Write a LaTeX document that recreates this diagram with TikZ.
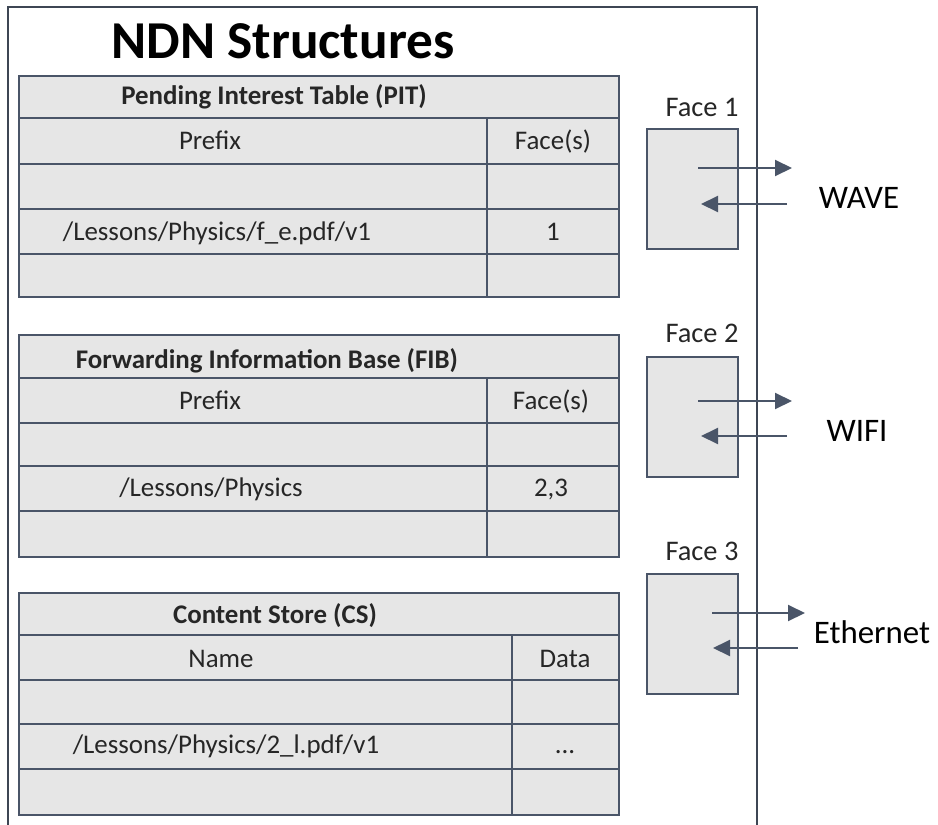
\documentclass[tikz,border=0pt]{standalone}
\usepackage{fontspec}
\setmainfont{Carlito}
\usetikzlibrary{arrows.meta}
\definecolor{linec}{HTML}{4A5568}
\definecolor{framec}{HTML}{3E4654}
\definecolor{cellfill}{HTML}{E6E6E6}
\definecolor{txt}{HTML}{262626}
\newcommand\titlefnt{\fontsize{53.5}{60}\selectfont\bfseries}
\newcommand\hdrfnt{\fontsize{27}{30}\selectfont\bfseries}
\newcommand\cellfnt{\fontsize{27}{30}\selectfont}
\newcommand\facefnt{\fontsize{28.5}{32}\selectfont}
\newcommand\linkfnt{\fontsize{33}{38}\selectfont}
\begin{document}
\begin{tikzpicture}[x=1bp,y=-1bp,
  gridline/.style={draw=linec, line width=2.2bp},
  tablebox/.style={gridline, fill=cellfill},
  hdr/.style={font=\hdrfnt, text=txt, anchor=base, inner sep=0pt},
  cell/.style={font=\cellfnt, text=txt, anchor=base, inner sep=0pt},
  facelabel/.style={font=\facefnt, text=txt, anchor=base, inner sep=0pt},
  linklabel/.style={font=\linkfnt, text=black, anchor=base, inner sep=0pt},
  facebox/.style={draw=linec, line width=2bp, fill=cellfill, inner sep=0pt,
    minimum width=91bp, minimum height=120bp, anchor=north west},
  flow/.style={draw=linec, line width=2bp, -{Triangle[length=17bp,width=16bp]}}]
\useasboundingbox (0,0) rectangle (938,825);

% outer frame, open at the bottom
\draw[framec, line width=2bp] (8,830) -- (8,7) -- (757,7) -- (757,830);

% title
\node[font=\titlefnt, text=black, anchor=base, inner sep=0pt] (title) at (283,58) {NDN Structures};

% ---- Pending Interest Table ----
\draw[tablebox] (19,76) rectangle (619,297);
\draw[gridline] (19,118) -- (619,118) (19,164) -- (619,164)
  (19,209) -- (619,209) (19,254) -- (619,254) (487,118) -- (487,297);
\node[hdr] (pith) at (274,104) {Pending Interest Table (PIT)};
\node[cell] (pitp) at (210,149) {Prefix};
\node[cell] (pitf) at (553,149) {Face(s)};
\node[cell] (pitn) at (217,240) {/Lessons/Physics/f\_e.pdf/v1};
\node[cell] (pitv) at (553,240) {1};

% ---- Forwarding Information Base ----
\draw[tablebox] (19,335) rectangle (619,557);
\draw[gridline] (19,378) -- (619,378) (19,423) -- (619,423)
  (19,466) -- (619,466) (19,511) -- (619,511) (487,378) -- (487,557);
\node[hdr] (fibh) at (267,368) {Forwarding Information Base (FIB)};
\node[cell] (fibp) at (210,409) {Prefix};
\node[cell] (fibf) at (551,409) {Face(s)};
\node[cell] (fibn) at (211,496) {/Lessons/Physics};
\node[cell] (fibv) at (551,496) {2,3};

% ---- Content Store ----
\draw[tablebox] (19,593) rectangle (619,815);
\draw[gridline] (19,635) -- (619,635) (19,680) -- (619,680)
  (19,724) -- (619,724) (19,769) -- (619,769) (512,635) -- (512,815);
\node[hdr] (csh) at (275,623) {Content Store (CS)};
\node[cell] (csn) at (221,667) {Name};
\node[cell] (csd) at (565,667) {Data};
\node[cell] (csk) at (226,753) {/Lessons/Physics/2\_l.pdf/v1};
\node[cell] (csv) at (565,753) {...};

% ---- faces ----
\node[facelabel] (f1l) at (702,116) {Face 1};
\node[facebox] (f1) at (646,128) {};
\node[facelabel] (f2l) at (702,342) {Face 2};
\node[facebox] (f2) at (646,356) {};
\node[facelabel] (f3l) at (702,560) {Face 3};
\node[facebox] (f3) at (646,573) {};

\node[linklabel] (wave) at (859,208) {WAVE};
\node[linklabel] (wifi) at (857,441) {WIFI};
\node[linklabel] (eth) at (872,643) {Ethernet};

% outgoing / incoming traffic on each face
\coordinate (f1o1) at (698,168); \coordinate (f1o2) at (792,168);
\coordinate (f1i1) at (787,204); \coordinate (f1i2) at (701,204);
\coordinate (f2o1) at (698,401); \coordinate (f2o2) at (792,401);
\coordinate (f2i1) at (787,436); \coordinate (f2i2) at (701,436);
\coordinate (f3o1) at (712,613); \coordinate (f3o2) at (805,613);
\coordinate (f3i1) at (798,648); \coordinate (f3i2) at (713,648);
\draw[flow] (f1o1) -- (f1o2);
\draw[flow] (f1i1) -- (f1i2);
\draw[flow] (f2o1) -- (f2o2);
\draw[flow] (f2i1) -- (f2i2);
\draw[flow] (f3o1) -- (f3o2);
\draw[flow] (f3i1) -- (f3i2);
\end{tikzpicture}
\end{document}
